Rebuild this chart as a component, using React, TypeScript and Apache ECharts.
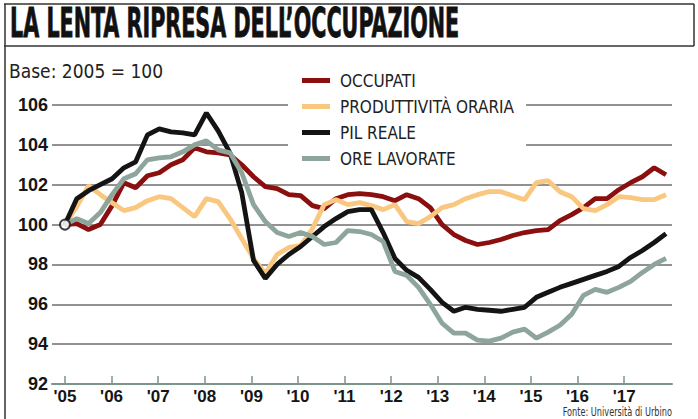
import React, { useEffect, useRef } from 'react';
import * as echarts from 'echarts';

const TITLE = 'LA LENTA RIPRESA DELL’OCCUPAZIONE';
const SUBTITLE = 'Base: 2005 = 100';
const SOURCE = 'Fonte: Università di Urbino';

const YEAR_LABELS = ["'05", "'06", "'07", "'08", "'09", "'10", "'11", "'12", "'13", "'14", "'15", "'16", "'17"];
const SERIES_NAMES = ['OCCUPATI', 'PRODUTTIVITÀ ORARIA', 'PIL REALE', 'ORE LAVORATE'];

// quarterly index values, 2005 Q1 -> 2017 Q4 (base 2005 = 100)
const OCCUPATI = [100, 100.05, 99.75, 100.0, 100.95, 102.1, 101.85, 102.45, 102.6, 103.0,
  103.25, 103.85, 103.65, 103.6, 103.5, 103.0, 102.4, 101.9, 101.8, 101.5,
  101.45, 100.95, 100.8, 101.3, 101.5, 101.55, 101.5, 101.4, 101.2, 101.5,
  101.3, 100.85, 100.0, 99.5, 99.2, 99.0, 99.1, 99.25, 99.45, 99.6,
  99.7, 99.75, 100.2, 100.5, 100.85, 101.3, 101.3, 101.75, 102.1, 102.4,
  102.85, 102.5];
const PRODUTTIVITA = [100, 100.9, 101.95, 101.5, 101.1, 100.7, 100.85, 101.2, 101.4, 101.3,
  100.85, 100.4, 101.3, 101.15, 100.3, 99.3, 98.3, 97.55, 98.5, 98.85,
  98.95, 99.8, 101.0, 101.25, 101.0, 101.1, 100.95, 100.75, 101.0, 100.15,
  100.05, 100.4, 100.85, 101.0, 101.3, 101.5, 101.65, 101.65, 101.45, 101.25,
  102.1, 102.2, 101.65, 101.4, 100.8, 100.7, 101.0, 101.4, 101.35, 101.25,
  101.25, 101.5];
const PIL = [100, 101.3, 101.7, 102.0, 102.3, 102.85, 103.15, 104.5, 104.8, 104.65,
  104.6, 104.5, 105.6, 104.7, 103.6, 101.6, 98.2, 97.3, 98.0, 98.5,
  98.9, 99.4, 99.9, 100.3, 100.65, 100.75, 100.75, 99.6, 98.3, 97.7,
  97.35, 96.75, 96.1, 95.65, 95.85, 95.75, 95.7, 95.65, 95.75, 95.85,
  96.35, 96.6, 96.85, 97.05, 97.25, 97.45, 97.65, 97.9, 98.35, 98.7,
  99.1, 99.55];
const ORE = [100, 100.3, 100.05, 100.6, 101.5, 102.3, 102.55, 103.25, 103.35, 103.4,
  103.65, 104.0, 104.2, 103.75, 103.6, 102.6, 101.0, 100.15, 99.6, 99.4,
  99.6, 99.4, 99.0, 99.1, 99.7, 99.65, 99.5, 99.15, 97.65, 97.45,
  96.85, 96.0, 95.05, 94.55, 94.55, 94.2, 94.15, 94.3, 94.6, 94.75,
  94.3, 94.6, 94.95, 95.5, 96.45, 96.75, 96.6, 96.85, 97.15, 97.6,
  98.0, 98.3];
const BASE_POINT = [0, 100];

const COLORS = ['#8c0f0f', '#f9c77f', '#141414', '#8ea59b'];
const NARROW = "'Liberation Sans Narrow', 'Arial Narrow', 'DejaVu Sans Condensed', sans-serif";
const QUARTERS_PER_TICK = 3.954;

export default function App() {
  const ref = useRef<HTMLDivElement>(null);
  useEffect(() => {
    if (!ref.current) return;
    const chart = echarts.init(ref.current, undefined, { renderer: 'svg' });
    const toPairs = (arr: number[]) => arr.map((v, i) => [i, v]);
    const tickValues = YEAR_LABELS.map((_, k) => k * QUARTERS_PER_TICK);
    const all = [OCCUPATI, PRODUTTIVITA, PIL, ORE];
    chart.setOption({
      animation: false,
      backgroundColor: '#ffffff',
      grid: { left: 52, right: 26, top: 105, bottom: 35 },
      xAxis: {
        type: 'value',
        min: -1.1,
        max: 51.51,
        splitLine: { show: false },
        axisLine: { show: true, lineStyle: { color: '#7d948b', width: 2 } },
        axisTick: { show: true, inside: true, length: 8, customValues: tickValues, lineStyle: { color: '#7d948b', width: 1.5 } },
        axisLabel: {
          customValues: tickValues,
          formatter: (v: number) => YEAR_LABELS[Math.round(v / QUARTERS_PER_TICK)] ?? '',
          fontFamily: "'Liberation Sans', Arial, sans-serif",
          fontWeight: 'bold',
          fontSize: 17,
          color: '#151515',
          margin: 4,
        },
      },
      yAxis: {
        type: 'value',
        min: 92,
        max: 106,
        interval: 2,
        axisLine: { show: false },
        axisTick: { show: false },
        splitLine: { show: true, lineStyle: { color: '#6e6e6e', width: 1.5 } },
        axisLabel: {
          fontFamily: "'Liberation Sans', Arial, sans-serif",
          fontWeight: 'bold',
          fontSize: 18,
          color: '#151515',
          margin: 4,
          verticalAlign: 'middle',
          padding: [0, 0, 13, 0],
        },
      },
      legend: {
        orient: 'vertical',
        left: 288,
        top: 62,
        padding: [10, 12, 8, 14],
        backgroundColor: '#ffffff',
        itemGap: 9,
        itemWidth: 28,
        itemHeight: 5,
        icon: 'rect',
        data: SERIES_NAMES,
        textStyle: { fontFamily: NARROW, fontSize: 17, color: '#222222', lineHeight: 16, padding: [0, 0, 0, 5] },
      },
      series: [
        ...all.map((arr, i) => ({
          name: SERIES_NAMES[i],
          type: 'line',
          data: toPairs(arr),
          color: COLORS[i],
          showSymbol: false,
          symbol: 'none',
          lineStyle: { color: COLORS[i], width: 4.8 },
          z: 2 + i,
        })),
        {
          name: 'base',
          type: 'scatter',
          data: [BASE_POINT],
          symbolSize: 10,
          itemStyle: { color: '#ffffff', borderColor: '#111111', borderWidth: 2 },
          z: 10,
        },
      ],
      graphic: [
        { type: 'line', shape: { x1: 4, y1: 4, x2: 694, y2: 4 }, style: { stroke: '#333', lineWidth: 1.5 } },
        { type: 'line', shape: { x1: 4, y1: 46, x2: 694, y2: 46 }, style: { stroke: '#333', lineWidth: 1.5 } },
        { type: 'line', shape: { x1: 5, y1: 4, x2: 5, y2: 419 }, style: { stroke: '#333', lineWidth: 1.5 } },
        { type: 'line', shape: { x1: 694, y1: 4, x2: 694, y2: 46 }, style: { stroke: '#333', lineWidth: 1.5 } },
        {
          type: 'text', x: 10, y: 24, scaleX: 0.575,
          style: { text: TITLE, fontFamily: NARROW, fontWeight: 'bold', fontSize: 40, fill: '#111', stroke: '#111', lineWidth: 0.8, align: 'left', verticalAlign: 'middle', textAlign: 'left', textVerticalAlign: 'middle' },
        },
        {
          type: 'text', x: 9, y: 71,
          style: { text: SUBTITLE, fontFamily: NARROW, fontSize: 19, fill: '#222', align: 'left', verticalAlign: 'middle', textAlign: 'left', textVerticalAlign: 'middle' },
        },
        {
          type: 'text', x: 672, y: 412, scaleX: 0.7,
          style: { text: SOURCE, fontFamily: NARROW, fontSize: 13, fill: '#333', align: 'right', verticalAlign: 'middle', textAlign: 'right', textVerticalAlign: 'middle' },
        },
      ],
    });
    return () => chart.dispose();
  }, []);
  return <div ref={ref} style={{ position: 'fixed', left: 0, top: 0, width: 698, height: 419, background: '#fff' }} />;
}
